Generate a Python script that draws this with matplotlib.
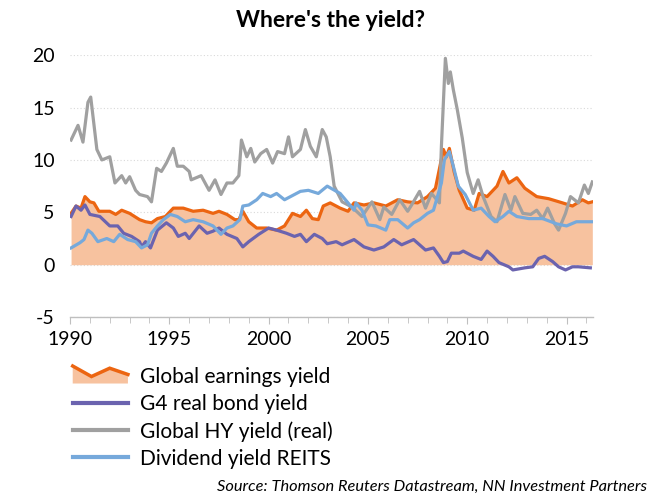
import matplotlib
matplotlib.use("Agg")
import matplotlib.pyplot as plt
import numpy as np
from matplotlib.legend_handler import HandlerBase
from matplotlib.lines import Line2D
from matplotlib.patches import Polygon

plt.rcParams['font.family'] = ['Lato', 'DejaVu Sans']
plt.rcParams['axes.unicode_minus'] = False

# Global earnings yield (area + line)
earn_x = [1990.05, 1990.3, 1990.55, 1990.75, 1991.0, 1991.2, 1991.45, 1992.0, 1992.3, 1992.6,
          1993.0, 1993.5, 1993.8, 1994.1, 1994.4, 1994.8, 1995.2, 1995.7, 1996.2, 1996.7,
          1997.2, 1997.5, 1997.9, 1998.3, 1998.5, 1998.7, 1999.0, 1999.4, 1999.9, 2000.4,
          2000.8, 2001.2, 2001.6, 2001.9, 2002.2, 2002.5, 2002.75, 2003.1, 2003.6, 2004.0,
          2004.3, 2004.8, 2005.3, 2005.9, 2006.5, 2007.0, 2007.5, 2008.0, 2008.4, 2008.8,
          2008.95, 2009.1, 2009.35, 2009.6, 2010.0, 2010.35, 2010.6, 2011.0, 2011.5, 2011.8,
          2012.1, 2012.5, 2012.9, 2013.5, 2014.1, 2014.8, 2015.3, 2015.8, 2016.1, 2016.3]
earn_y = [4.9, 5.6, 5.4, 6.5, 6.0, 5.9, 5.1, 5.1, 4.8, 5.2,
          4.9, 4.3, 4.1, 4.0, 4.4, 4.6, 5.4, 5.4, 5.1, 5.2,
          4.9, 5.1, 4.8, 4.3, 4.3, 5.1, 4.1, 3.5, 3.5, 3.3,
          3.7, 4.9, 4.6, 5.2, 4.4, 4.3, 5.6, 5.9, 5.4, 5.1,
          5.9, 5.7, 5.9, 5.6, 6.2, 6.0, 5.9, 6.5, 7.3, 11.0,
          10.3, 11.1, 8.8, 7.1, 5.4, 5.2, 6.8, 6.5, 7.5, 8.9,
          7.8, 8.3, 7.3, 6.5, 6.3, 5.9, 5.6, 6.2, 5.9, 6.0]

# G4 real bond yield
bond_x = [1990.05, 1990.3, 1990.55, 1990.75, 1991.0, 1991.5, 1992.0, 1992.4, 1992.7, 1993.1,
          1993.5, 1993.6, 1993.8, 1994.05, 1994.4, 1994.85, 1995.2, 1995.45, 1995.8, 1996.0,
          1996.5, 1996.9, 1997.2, 1997.5, 1997.9, 1998.4, 1998.7, 1999.0, 1999.5, 2000.0,
          2000.4, 2000.9, 2001.3, 2001.6, 2001.9, 2002.3, 2002.7, 2002.95, 2003.4, 2003.7,
          2004.3, 2004.8, 2005.3, 2005.8, 2006.3, 2006.7, 2007.3, 2007.9, 2008.3, 2008.6,
          2008.8, 2009.0, 2009.2, 2009.6, 2009.8, 2010.3, 2010.7, 2011.0, 2011.3, 2011.6,
          2012.1, 2012.3, 2012.9, 2013.3, 2013.6, 2013.9, 2014.3, 2014.6, 2014.95, 2015.3,
          2015.6, 2016.2]
bond_y = [4.6, 5.6, 5.2, 5.7, 4.8, 4.6, 3.7, 3.7, 3.0, 2.7,
          2.2, 1.7, 2.2, 1.6, 3.3, 4.0, 3.5, 2.7, 3.0, 2.5,
          3.7, 3.0, 3.2, 3.5, 2.9, 2.5, 1.7, 2.2, 2.9, 3.5,
          3.3, 3.0, 2.7, 2.9, 2.2, 2.9, 2.5, 2.0, 2.2, 1.9,
          2.4, 1.7, 1.4, 1.7, 2.4, 1.9, 2.4, 1.4, 1.6, 0.8,
          0.2, 0.3, 1.1, 1.1, 1.3, 0.8, 0.5, 1.3, 0.8, 0.2,
          -0.2, -0.5, -0.3, -0.2, 0.6, 0.8, 0.3, -0.2, -0.5, -0.2,
          -0.2, -0.3]

# Global HY yield (real)
hy_x = [1990.05, 1990.4, 1990.65, 1990.9, 1991.04, 1991.35, 1991.6, 1992.0, 1992.26, 1992.6,
        1992.8, 1993.0, 1993.3, 1993.5, 1993.9, 1994.1, 1994.36, 1994.6, 1994.85, 1995.2,
        1995.4, 1995.7, 1996.0, 1996.1, 1996.6, 1997.0, 1997.3, 1997.6, 1997.9, 1998.2,
        1998.5, 1998.63, 1998.9, 1999.1, 1999.3, 1999.6, 1999.9, 2000.2, 2000.45, 2000.8,
        2001.0, 2001.2, 2001.6, 2001.85, 2002.1, 2002.4, 2002.7, 2002.9, 2003.1, 2003.3,
        2003.7, 2004.2, 2004.7, 2005.2, 2005.6, 2005.8, 2006.2, 2006.6, 2007.0, 2007.2,
        2007.6, 2007.9, 2008.2, 2008.6, 2008.7, 2008.9, 2009.05, 2009.15, 2009.3, 2009.5,
        2009.75, 2010.0, 2010.3, 2010.55, 2010.8, 2011.2, 2011.5, 2011.9, 2012.2, 2012.4,
        2012.8, 2013.2, 2013.5, 2013.8, 2014.05, 2014.4, 2014.6, 2014.95, 2015.2, 2015.6,
        2015.9, 2016.1, 2016.3]
hy_y = [11.9, 13.3, 11.7, 15.5, 16.0, 11.0, 10.0, 10.3, 7.8, 8.5,
        7.8, 8.4, 7.1, 6.7, 6.5, 6.0, 9.2, 8.9, 9.7, 11.1,
        9.4, 9.4, 8.9, 8.1, 8.5, 7.1, 8.1, 6.7, 7.8, 7.8,
        8.5, 11.9, 10.3, 11.1, 9.8, 10.6, 11.0, 9.7, 10.8, 10.6,
        12.2, 10.3, 11.0, 12.9, 11.3, 10.3, 12.9, 12.2, 10.3, 7.5,
        6.0, 5.5, 4.6, 6.0, 4.3, 5.5, 4.8, 6.2, 5.1, 5.7,
        7.0, 5.4, 6.8, 5.9, 11.3, 19.7, 17.3, 18.4, 16.7, 14.8,
        12.1, 8.8, 6.8, 8.1, 6.5, 4.6, 4.1, 6.7, 5.2, 6.5,
        4.9, 4.8, 5.2, 4.4, 5.4, 3.9, 3.3, 4.9, 6.5, 5.9,
        7.6, 6.8, 7.9]

# Dividend yield REITS
reit_x = [1990.05, 1990.5, 1990.7, 1990.9, 1991.1, 1991.4, 1991.85, 1992.2, 1992.5, 1992.9,
          1993.3, 1993.6, 1993.9, 1994.1, 1994.4, 1994.7, 1995.05, 1995.4, 1995.8, 1996.2,
          1996.7, 1997.2, 1997.6, 1997.9, 1998.2, 1998.55, 1998.7, 1999.0, 1999.4, 1999.7,
          2000.1, 2000.4, 2000.8, 2001.1, 2001.6, 2002.0, 2002.5, 2002.95, 2003.6, 2004.0,
          2004.3, 2004.4, 2004.7, 2005.0, 2005.4, 2005.9, 2006.1, 2006.5, 2007.0, 2007.3,
          2007.6, 2008.0, 2008.3, 2008.7, 2008.85, 2009.1, 2009.3, 2009.55, 2009.9, 2010.3,
          2010.7, 2011.1, 2011.4, 2011.8, 2012.1, 2012.5, 2013.1, 2013.8, 2014.5, 2015.0,
          2015.5, 2015.8, 2016.3]
reit_y = [1.6, 2.1, 2.4, 3.3, 3.0, 2.2, 2.5, 2.2, 2.9, 2.4,
          2.2, 1.6, 1.9, 3.0, 3.7, 4.3, 4.8, 4.6, 4.1, 4.3,
          4.1, 3.7, 2.9, 3.5, 3.7, 4.3, 5.6, 5.7, 6.2, 6.8,
          6.5, 6.8, 6.2, 6.5, 7.0, 7.1, 6.8, 7.5, 6.8, 5.9,
          5.2, 5.9, 5.2, 3.8, 3.7, 3.3, 4.3, 4.3, 3.5, 4.0,
          4.3, 4.9, 5.2, 7.8, 10.0, 10.8, 9.4, 7.5, 6.7, 5.2,
          5.4, 4.6, 4.1, 4.6, 5.1, 4.6, 4.4, 4.4, 3.9, 3.7,
          4.1, 4.1, 4.1]

labels = ["Global earnings yield", "G4 real bond yield", "Global HY yield (real)", "Dividend yield REITS"]

ORANGE = "#EC6511"
FILL = "#F7C29F"
PURPLE = "#6B63AF"
GREY = "#A0A0A0"
BLUE = "#76A9DB"


class AreaLineHandler(HandlerBase):
    # zigzag area swatch like the Excel legend
    def create_artists(self, legend, orig_handle, xdescent, ydescent,
                       width, height, fontsize, trans):
        x0 = -xdescent
        y0 = -ydescent
        fx = np.array([0.0, 0.34, 0.67, 1.0]) * width + x0
        fy = np.array([1.15, 0.43, 1.0, 0.57]) * height + y0
        top = list(zip(fx, fy))
        bot = y0 - 0.05 * height
        poly = Polygon(top + [(fx[-1], bot), (fx[0], bot)], closed=True,
                       facecolor=FILL, edgecolor="none", transform=trans)
        line = Line2D(fx, fy, color=ORANGE, lw=2.5, transform=trans,
                      solid_joinstyle="miter")
        return [poly, line]


fig = plt.figure(figsize=(6.61, 4.97), dpi=100)
ax = fig.add_axes([0.106, 0.362, 0.791, 0.527])

ax.fill_between(earn_x, 0, earn_y, color=FILL, lw=0, zorder=1)
ax.plot(earn_x, earn_y, color=ORANGE, lw=2.3, zorder=3)
h_bond, = ax.plot(bond_x, bond_y, color=PURPLE, lw=2.3, zorder=3)
h_hy, = ax.plot(hy_x, hy_y, color=GREY, lw=2.3, zorder=4)
h_reit, = ax.plot(reit_x, reit_y, color=BLUE, lw=2.3, zorder=5)

ax.set_xlim(1990, 2016.33)
ax.set_ylim(-5, 20)
ax.set_yticks(np.arange(-5, 21, 5))
ax.set_xticks(np.arange(1990, 2016, 5))
ax.set_xticks(np.arange(1990, 2017, 1), minor=True)
ax.yaxis.grid(True, color="#D9D9D9", linestyle=(0, (1, 2)), lw=0.8, zorder=0)
ax.set_axisbelow(True)

for s in ["left", "right", "top"]:
    ax.spines[s].set_visible(False)
ax.spines["bottom"].set_color("#BFBFBF")
ax.spines["bottom"].set_linewidth(1.0)

ax.tick_params(axis="y", length=0, labelsize=14, pad=11)
ax.tick_params(axis="x", which="major", length=5, color="#BFBFBF", labelsize=14, pad=5)
ax.tick_params(axis="x", which="minor", length=4, color="#BFBFBF")

fig.text(0.5, 0.958, "Where's the yield?", ha="center", va="center",
         fontsize=16.5, fontweight="bold")

area_handle = object()
leg = fig.legend([area_handle, h_bond, h_hy, h_reit], labels,
                 handler_map={object: AreaLineHandler()},
                 loc="upper left", bbox_to_anchor=(0.11, 0.262),
                 frameon=False, fontsize=15, borderpad=0, borderaxespad=0,
                 handlelength=2.65, handletextpad=0.58, labelspacing=0.34)
for ln in leg.get_lines():
    ln.set_linewidth(3)

fig.text(0.979, 0.02, "Source: Thomson Reuters Datastream, NN Investment Partners",
         ha="right", va="center", fontsize=11.8, style="italic")

fig.savefig("out.png", dpi=100)
